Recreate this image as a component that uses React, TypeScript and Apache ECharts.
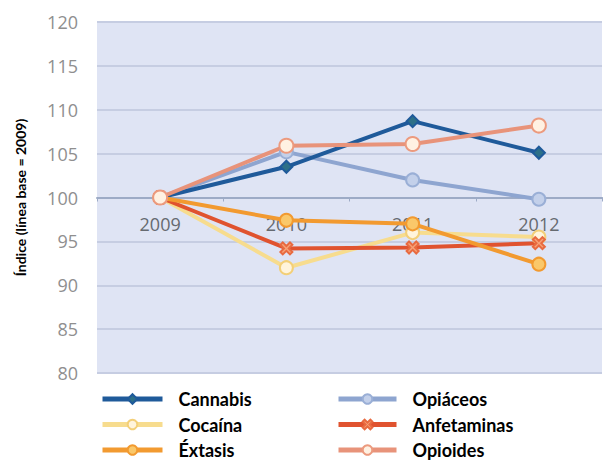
import React, { useEffect, useRef } from "react";
import * as echarts from "echarts";

const categories = ["2009", "2010", "2011", "2012"];
const baseline = 100;
const yMin = 80;
const yMax = 120;
const yStep = 5;

const cannabis = [100, 103.5, 108.7, 105.1];
const opiaceos = [100, 105.2, 102.0, 99.8];
const opioides = [100, 105.9, 106.1, 108.2];
const cocaina = [100, 92.0, 96.0, 95.5];
const anfetaminas = [100, 94.2, 94.3, 94.8];
const extasis = [100, 97.4, 97.0, 92.4];

const yTitle = "Índice (línea base = 2009)";
const legendLeft = ["Cannabis", "Cocaína", "Éxtasis"];
const legendRight = ["Opiáceos", "Anfetaminas", "Opioides"];

const crossPath =
  "path://M2,0 L5,3 L8,0 L10,2 L7,5 L10,8 L8,10 L5,7 L2,10 L0,8 L3,5 L0,2 Z";

const W = 608;
const H = 461;
const GRID_TOP = 22;
const GRID_BOTTOM = 88;

export default function App() {
  const ref = useRef<HTMLDivElement>(null);
  useEffect(() => {
    document.body.style.margin = "0";
    if (!ref.current) return;
    const chart = echarts.init(ref.current, undefined, { renderer: "svg" });
    const shift = (arr: number[]) => arr.map((v) => +(v - baseline).toFixed(3));
    const gridH = H - GRID_TOP - GRID_BOTTOM;
    const axisOffset = -gridH * ((baseline - yMin) / (yMax - yMin));
    const mk = (
      name: string,
      data: number[],
      color: string,
      symbol: string,
      size: number,
      fill: string,
      border: string
    ) => ({
      name,
      type: "line",
      data: shift(data),
      symbol,
      symbolSize: size,
      showAllSymbol: true,
      lineStyle: { color, width: 4 },
      itemStyle: { color: fill, borderColor: border, borderWidth: 2 },
      emphasis: { disabled: true },
    });
    const legendText = {
      fontFamily: "Lato",
      fontWeight: "bold",
      fontSize: 18,
      color: "#000",
      lineHeight: 18,
      padding: [0, 0, 0, 11],
    };
    const legendBase = {
      orient: "vertical",
      top: 390,
      height: 120,
      padding: 0,
      itemHeight: 12,
      itemGap: 7.5,
      textStyle: legendText,
      lineStyle: { width: 5 },
    };
    chart.setOption({
      animation: false,
      grid: {
        left: 97,
        right: 6,
        top: GRID_TOP,
        bottom: GRID_BOTTOM,
        show: true,
        backgroundColor: "#dfe4f4",
        borderWidth: 0,
      },
      legend: [
        { ...legendBase, left: 100, itemWidth: 60, data: legendLeft },
        { ...legendBase, left: 336, itemWidth: 58, data: legendRight },
      ],
      xAxis: {
        type: "category",
        data: categories,
        boundaryGap: true,
        offset: axisOffset,
        axisLine: { onZero: false, lineStyle: { color: "#9dabc6", width: 2 } },
        axisTick: { show: true, length: 4, lineStyle: { color: "#9dabc6" } },
        axisLabel: {
          color: "#666a70",
          fontSize: 18,
          fontFamily: "Open Sans",
          margin: 17,
        },
        splitLine: { show: false },
      },
      yAxis: {
        type: "value",
        min: yMin - baseline,
        max: yMax - baseline,
        interval: yStep,
        name: yTitle,
        nameLocation: "middle",
        nameRotate: 90,
        nameGap: 70,
        nameTextStyle: {
          fontFamily: "Lato",
          fontWeight: "bold",
          fontSize: 14,
          color: "#000",
        },
        axisLine: { show: false },
        axisTick: { show: false },
        axisLabel: {
          color: "#8f8f8f",
          fontSize: 18,
          fontFamily: "Open Sans",
          margin: 19,
          formatter: (v: number) => String(v + baseline),
        },
        splitLine: { lineStyle: { color: "#c6cde2", width: 2 } },
      },
      series: [
        mk("Cocaína", cocaina, "#f7dc8e", "circle", 13, "#fff4dc", "#f3cf78"),
        mk("Anfetaminas", anfetaminas, "#e0532f", crossPath, 12, "#f7a277", "#e86a40"),
        mk("Opiáceos", opiaceos, "#8ea5d0", "circle", 13, "#c3d0ea", "#9aafd6"),
        mk("Cannabis", cannabis, "#1f5a9a", "diamond", 12, "#2d7088", "#1f5a9a"),
        mk("Éxtasis", extasis, "#f29a30", "circle", 13, "#fac86a", "#f29a30"),
        mk("Opioides", opioides, "#e8937a", "circle", 14, "#fff1e2", "#ec9a7e"),
      ],
    });
    return () => chart.dispose();
  }, []);
  return <div ref={ref} style={{ width: W, height: H }} />;
}
